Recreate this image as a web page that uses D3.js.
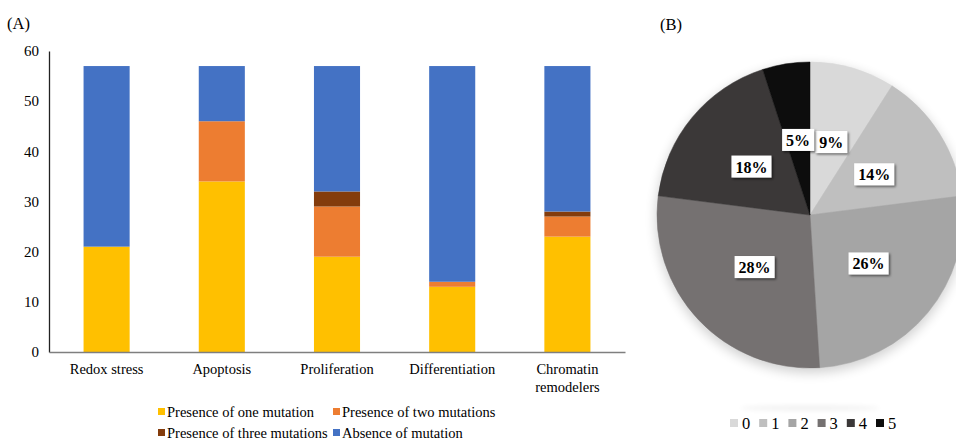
<!DOCTYPE html>
<html>
<head>
<meta charset="utf-8">
<script src="https://cdn.jsdelivr.net/npm/d3@7"></script>
<style>
  html, body { margin: 0; padding: 0; background: #fff; }
  svg, svg text { font-family: "Liberation Serif", "Times New Roman", Tinos, "DejaVu Serif", serif !important; }
</style>
</head>
<body>
<svg id="chart" width="956" height="440"></svg>
<script>
// ---- Data (A) ----
const categories = ["Redox stress", "Apoptosis", "Proliferation", "Differentiation", "Chromatin remodelers"];
const seriesNames = ["Presence of one mutation", "Presence of two mutations", "Presence of three mutations", "Absence of mutation"];
const oneMutation   = [21, 34, 19, 13, 23];
const twoMutations  = [0, 12, 10, 1, 4];
const threeMutations= [0, 0, 3, 0, 1];
const absence       = [36, 11, 25, 43, 29];
const yTicks = [0, 10, 20, 30, 40, 50, 60];
const barColors = ["#FFC000", "#ED7D31", "#843C0C", "#4472C4"];

// ---- Data (B) ----
const pieLabels = ["0", "1", "2", "3", "4", "5"];
const pieValues = [9, 14, 26, 28, 18, 5];
const pieColors = ["#D9D9D9", "#BFBFBF", "#A5A5A5", "#757171", "#3B3838", "#0D0D0D"];

const svg = d3.select("#chart");
const defs = svg.append("defs");

// ---------- Panel A ----------
svg.append("text").attr("x", 7).attr("y", 29).attr("font-size", 16.5).attr("fill", "#000").text("(A)");

const x = d3.scaleBand().domain(categories).range([49, 625]).paddingInner(0.6).paddingOuter(0.3);
const y = d3.scaleLinear().domain([0, 60]).range([352, 51]);

const rows = categories.map((c, i) => ({
  cat: c,
  [seriesNames[0]]: oneMutation[i],
  [seriesNames[1]]: twoMutations[i],
  [seriesNames[2]]: threeMutations[i],
  [seriesNames[3]]: absence[i]
}));
const stacked = d3.stack().keys(seriesNames)(rows);

const gBars = svg.append("g");
stacked.forEach((layer, li) => {
  gBars.selectAll(null).data(layer).enter().append("rect")
    .attr("x", d => x(d.data.cat))
    .attr("width", x.bandwidth())
    .attr("y", d => y(d[1]))
    .attr("height", d => Math.max(0, y(d[0]) - y(d[1])))
    .attr("fill", barColors[li]);
});

// y axis
const yAxis = d3.axisLeft(y).tickValues(yTicks).tickSize(0).tickPadding(10);
const gy = svg.append("g").attr("transform", "translate(49,0)").call(yAxis);
gy.attr("font-family", null).attr("font-size", null);
gy.select(".domain").attr("stroke", "#222").attr("stroke-width", 1.3);
gy.selectAll("text").attr("font-size", 15).attr("fill", "#000");

// x axis
const xAxis = d3.axisBottom(x).tickSize(0).tickPadding(0).tickFormat("");
const gx = svg.append("g").attr("transform", "translate(0,352)").call(xAxis);
gx.attr("font-family", null).attr("font-size", null);
gx.select(".domain").attr("stroke", "#7f7f7f").attr("stroke-width", 1.6);
gx.selectAll(".tick").each(function(d) {
  const t = d3.select(this);
  const words = d === "Chromatin remodelers" ? ["Chromatin", "remodelers"] : [d];
  words.forEach((w, i) => {
    t.append("text").attr("x", 0).attr("y", 22 + i * 18)
      .attr("text-anchor", "middle").attr("font-size", 14.5).attr("fill", "#000")
      .text(w);
  });
});

// legend A
const legPos = [[158, 412], [333, 412], [158, 433], [333, 433]];
seriesNames.forEach((s, i) => {
  const g = svg.append("g").attr("transform", `translate(${legPos[i][0]},${legPos[i][1]})`);
  g.append("rect").attr("x", 0).attr("y", -4).attr("width", 7).attr("height", 7).attr("fill", barColors[i]);
  g.append("text").attr("x", 9).attr("y", 5).attr("font-size", 14.5).attr("fill", "#000").text(s);
});

// ---------- Panel B ----------
svg.append("text").attr("x", 660).attr("y", 30).attr("font-size", 16.5).attr("fill", "#000").text("(B)");

const cx = 810, cy = 215, R = 153;

const blur = defs.append("filter").attr("id", "pieShadow").attr("x", "-30%").attr("y", "-30%").attr("width", "160%").attr("height", "160%");
blur.append("feGaussianBlur").attr("stdDeviation", 6);
const blur2 = defs.append("filter").attr("id", "ellBlur").attr("x", "-50%").attr("y", "-200%").attr("width", "200%").attr("height", "500%");
blur2.append("feGaussianBlur").attr("stdDeviation", 2.5);
const boxShadow = defs.append("filter").attr("id", "boxShadow").attr("x", "-30%").attr("y", "-30%").attr("width", "170%").attr("height", "170%");
boxShadow.append("feDropShadow").attr("dx", 1.5).attr("dy", 1.5).attr("stdDeviation", 1).attr("flood-color", "#000").attr("flood-opacity", 0.55);

// soft shadow under the pie
svg.append("circle").attr("cx", cx).attr("cy", cy + 4).attr("r", R + 1)
  .attr("fill", "#000").attr("opacity", 0.18).attr("filter", "url(#pieShadow)");
// faint reflection ellipse
svg.append("ellipse").attr("cx", cx).attr("cy", 408).attr("rx", 70).attr("ry", 2.5)
  .attr("fill", "#000").attr("opacity", 0.06).attr("filter", "url(#ellBlur)");

const pie = d3.pie().sort(null).value(d => d)(pieValues);
const arc = d3.arc().innerRadius(0).outerRadius(R);
const labelArc = d3.arc().innerRadius(76).outerRadius(76);

const gPie = svg.append("g").attr("transform", `translate(${cx},${cy})`);
gPie.selectAll("path").data(pie).enter().append("path")
  .attr("d", arc)
  .attr("fill", (d, i) => pieColors[i])
  .attr("stroke", (d, i) => pieColors[i]).attr("stroke-width", 0.5);

// labels with boxes
pie.forEach((d, i) => {
  const [lx, ly] = labelArc.centroid(d);
  const g = gPie.append("g").attr("transform", `translate(${lx},${ly})`);
  const rect = g.append("rect").attr("fill", "#fff").attr("filter", "url(#boxShadow)");
  const t = g.append("text").attr("text-anchor", "middle").attr("y", 6)
    .attr("font-size", 16).attr("font-weight", "bold").attr("fill", "#000")
    .text(pieValues[i] + "%");
  const bb = t.node().getBBox();
  const w = bb.width + 8, h = 22;
  rect.attr("x", -w / 2).attr("y", -h / 2).attr("width", w).attr("height", h);
});

// legend B
const gLegB = svg.append("g");
pieLabels.forEach((l, i) => {
  const lx0 = 730 + i * 29.2;
  gLegB.append("rect").attr("x", lx0).attr("y", 419).attr("width", 8).attr("height", 8).attr("fill", pieColors[i]);
  gLegB.append("text").attr("x", lx0 + 12).attr("y", 429).attr("font-size", 16.5).attr("fill", "#000").text(l);
});
</script>
</body>
</html>
